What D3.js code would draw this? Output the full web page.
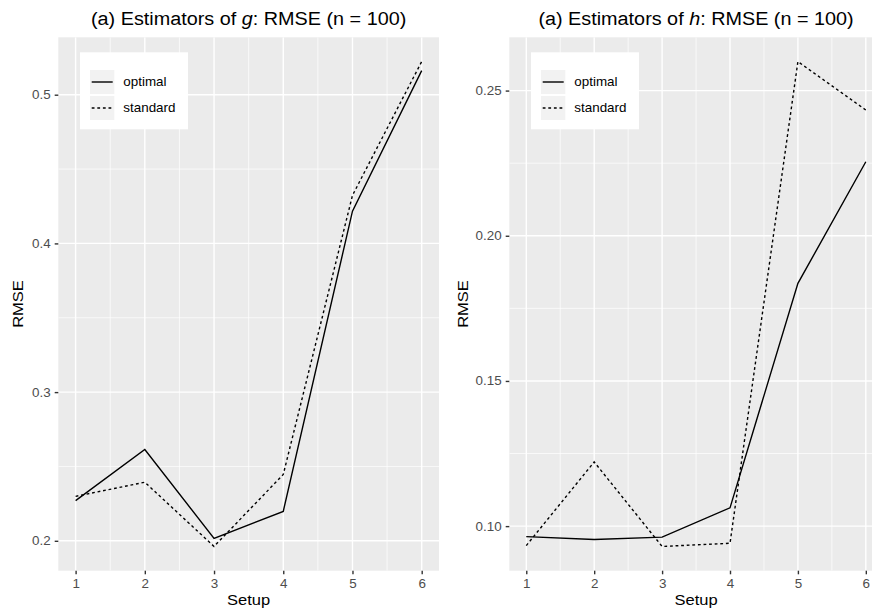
<!DOCTYPE html>
<html>
<head>
<meta charset="utf-8">
<script src="https://cdn.jsdelivr.net/npm/d3@7"></script>
<style>
html,body{margin:0;padding:0;background:#fff;}
svg{display:block;font-family:"Liberation Sans",Arial,Helvetica,sans-serif;}
</style>
</head>
<body>
<svg id="chart" width="872" height="615"></svg>
<script>
// ---- data ----
const setups = [1, 2, 3, 4, 5, 6];
const seriesNames = ["optimal", "standard"];
const gOptimal  = [0.2270, 0.2614, 0.2016, 0.2198, 0.4217, 0.5162];
const gStandard = [0.2299, 0.2394, 0.1962, 0.2446, 0.4323, 0.5223];
const hOptimal  = [0.0964, 0.0954, 0.0962, 0.1063, 0.1836, 0.2255];
const hStandard = [0.0933, 0.1221, 0.0930, 0.0941, 0.2600, 0.2433];
const gTicks = [0.2, 0.3, 0.4, 0.5];
const gMinor = [0.25, 0.35, 0.45];
const hTicks = [0.10, 0.15, 0.20, 0.25];
const hMinor = [0.125, 0.175, 0.225];
const xMinor = [1.5, 2.5, 3.5, 4.5, 5.5];

const svg = d3.select("#chart");
const STRETCH = 1.1;

const panels = [
  {left: 58.3, right: 439, letter: "g", opt: gOptimal, std: gStandard,
   ticks: gTicks, minor: gMinor, fmt: d3.format(".1f"), ylabX: 23.3},
  {left: 509.3, right: 882.8, letter: "h", opt: hOptimal, std: hStandard,
   ticks: hTicks, minor: hMinor, fmt: d3.format(".2f"), ylabX: 468.3}
];
const panelTop = 37.3, panelBottom = 570.7;

panels.forEach(p => {
  const g = svg.append("g");
  const all = p.opt.concat(p.std);
  const [lo, hi] = d3.extent(all);
  const pad = (hi - lo) * 0.05;
  const x = d3.scaleLinear().domain([0.75, 6.25]).range([p.left, p.right]);
  const y = d3.scaleLinear().domain([lo - pad, hi + pad]).range([panelBottom, panelTop]);

  const cid = "clip" + p.letter;
  svg.append("clipPath").attr("id", cid).append("rect")
    .attr("x", p.left).attr("y", panelTop).attr("width", p.right - p.left).attr("height", panelBottom - panelTop);

  g.append("rect").attr("x", p.left).attr("y", panelTop)
    .attr("width", p.right - p.left).attr("height", panelBottom - panelTop).attr("fill", "#ebebeb");

  const grid = g.append("g").attr("clip-path", `url(#${cid})`);
  grid.selectAll(".ymin").data(p.minor).join("line")
    .attr("x1", p.left).attr("x2", p.right)
    .attr("y1", d => y(d)).attr("y2", d => y(d))
    .attr("stroke", "#fff").attr("stroke-width", 0.7);
  grid.selectAll(".xmin").data(xMinor).join("line")
    .attr("y1", panelTop).attr("y2", panelBottom)
    .attr("x1", d => x(d)).attr("x2", d => x(d))
    .attr("stroke", "#fff").attr("stroke-width", 0.7);
  grid.selectAll(".ymaj").data(p.ticks).join("line")
    .attr("x1", p.left).attr("x2", p.right)
    .attr("y1", d => y(d)).attr("y2", d => y(d))
    .attr("stroke", "#fff").attr("stroke-width", 1.4);
  grid.selectAll(".xmaj").data(setups).join("line")
    .attr("y1", panelTop).attr("y2", panelBottom)
    .attr("x1", d => x(d)).attr("x2", d => x(d))
    .attr("stroke", "#fff").attr("stroke-width", 1.4);

  const line = d3.line().x((d, i) => x(setups[i])).y(d => y(d));
  grid.append("path").datum(p.opt).attr("d", line)
    .attr("fill", "none").attr("stroke", "#000").attr("stroke-width", 1.4);
  grid.append("path").datum(p.std).attr("d", line)
    .attr("fill", "none").attr("stroke", "#000").attr("stroke-width", 1.4)
    .attr("stroke-dasharray", "2.8,2.8");

  const yAxis = d3.axisLeft(y).tickValues(p.ticks).tickFormat(p.fmt).tickSize(3.6).tickPadding(4);
  const ya = g.append("g").attr("transform", `translate(${p.left},0)`).call(yAxis);
  const xAxis = d3.axisBottom(x).tickValues(setups).tickFormat(d3.format("d")).tickSize(3.6).tickPadding(5.5);
  const xa = g.append("g").attr("transform", `translate(0,${panelBottom})`).call(xAxis);
  [ya, xa].forEach(a => {
    a.select(".domain").remove();
    a.selectAll(".tick line").attr("stroke", "#333").attr("stroke-width", 1.4);
    a.selectAll(".tick text").attr("fill", "#4d4d4d").style("font-size", "12.2px")
      .style("font-family", "'Liberation Sans',Arial,sans-serif");
  });

  g.append("text").attr("x", (p.left + p.right) / 2).attr("y", 604.5)
    .attr("text-anchor", "middle").style("font-size", "15px").attr("fill", "#000").text("Setup");
  g.append("text").attr("transform", `translate(${p.ylabX},${(panelTop + panelBottom) / 2}) rotate(-90)`)
    .attr("text-anchor", "middle").style("font-size", "15px").attr("fill", "#000").text("RMSE");

  const t = g.append("text").attr("x", (p.left + p.right) / 2).attr("y", 24.5)
    .attr("text-anchor", "middle").style("font-size", "18px").attr("fill", "#000");
  t.append("tspan").text("(a) Estimators of ");
  t.append("tspan").style("font-style", "italic").text(p.letter);
  t.append("tspan").text(": RMSE (n = 100)");

  const lx = p.left + 21.7, ly = 52.3;
  const leg = g.append("g");
  leg.append("rect").attr("x", lx).attr("y", ly).attr("width", 108).attr("height", 77).attr("fill", "#fff");
  seriesNames.forEach((name, i) => {
    const ky = ly + 17.7 + i * 26;
    leg.append("rect").attr("x", lx + 10).attr("y", ky).attr("width", 24.3).attr("height", 24)
      .attr("fill", "#f2f2f2");
    const ln = leg.append("line").attr("x1", lx + 11.7).attr("x2", lx + 32.7)
      .attr("y1", ky + 12).attr("y2", ky + 12).attr("stroke", "#000").attr("stroke-width", 1.4);
    if (i === 1) ln.attr("stroke-dasharray", "2.8,2.8");
    leg.append("text").attr("x", lx + 43.3).attr("y", ky + 12).attr("dy", "0.35em")
      .style("font-size", "12.2px").attr("fill", "#000").text(name);
  });
});

// the reference's text is slightly wider than its height suggests
svg.selectAll("text").each(function () {
  const L = this.getComputedTextLength();
  if (L > 0) d3.select(this).attr("textLength", L * STRETCH).attr("lengthAdjust", "spacingAndGlyphs");
});
</script>
</body>
</html>
